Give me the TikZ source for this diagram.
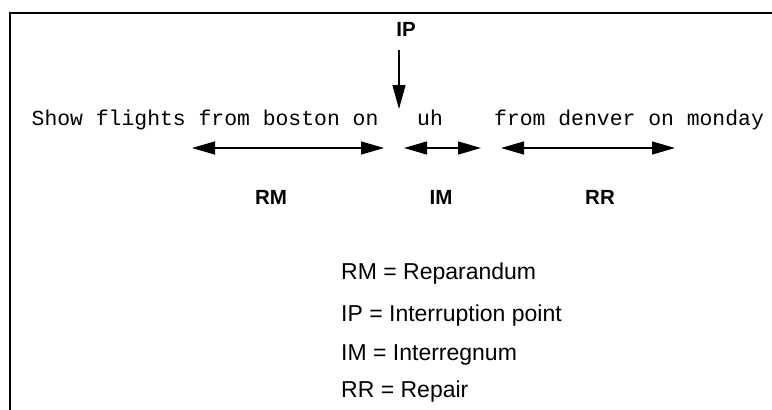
\documentclass[tikz,border=0pt]{standalone}
\usepackage{fontspec}
\setmainfont{Liberation Sans}
\newfontfamily\uttfont{Liberation Mono}
\usetikzlibrary{arrows.meta}
\tikzset{
  frameline/.style={line width=2pt},
  utter/.style={anchor=base west, inner sep=0pt, font=\uttfont\fontsize{21.4}{24}\selectfont},
  spanlabel/.style={inner sep=0pt, font=\bfseries\fontsize{20.5}{23}\selectfont},
  legendline/.style={anchor=base west, inner sep=0pt, font=\fontsize{23}{26}\selectfont},
  span/.style={line width=1.2pt, {Triangle[length=23pt,width=13pt]}-{Triangle[length=23pt,width=13pt]}},
  pointer/.style={line width=1.2pt, -{Triangle[length=24pt,width=13pt]}}
}
\begin{document}
\begin{tikzpicture}[x=1pt,y=-1pt]
  \useasboundingbox (0,0) rectangle (772,410);
  % open frame along the top and left edges
  \draw[frameline] (9.5,410) -- (9.5,13) -- (772,13);

  % the utterance
  \node[utter] (rmtext) at (31.5,125) {Show flights from boston on};
  \node[utter] (imtext) at (417,125) {uh};
  \node[utter] (rrtext) at (494,125) {from denver on monday};

  % interruption point
  \node[spanlabel] (ip) at (406,29) {IP};
  \coordinate (iptop) at (399,50);
  \coordinate (ipbot) at (399,109);
  \draw[pointer] (iptop) -- (ipbot);

  % extents of the three regions
  \coordinate (rmL) at (192,148);
  \coordinate (rmR) at (384,148);
  \coordinate (imL) at (404,148);
  \coordinate (imR) at (481,148);
  \coordinate (rrL) at (501,148);
  \coordinate (rrR) at (675,148);
  \draw[span] (rmL) -- (rmR);
  \draw[span] (imL) -- (imR);
  \draw[span] (rrL) -- (rrR);

  \node[spanlabel] (rm) at (271,197) {RM};
  \node[spanlabel] (im) at (441,197) {IM};
  \node[spanlabel] (rr) at (600,197) {RR};

  % legend
  \node[legendline] (leg1) at (341,279) {RM = Reparandum};
  \node[legendline] (leg2) at (341,321) {IP = Interruption point};
  \node[legendline] (leg3) at (341,360) {IM = Interregnum};
  \node[legendline] (leg4) at (341,397) {RR = Repair};
\end{tikzpicture}
\end{document}
